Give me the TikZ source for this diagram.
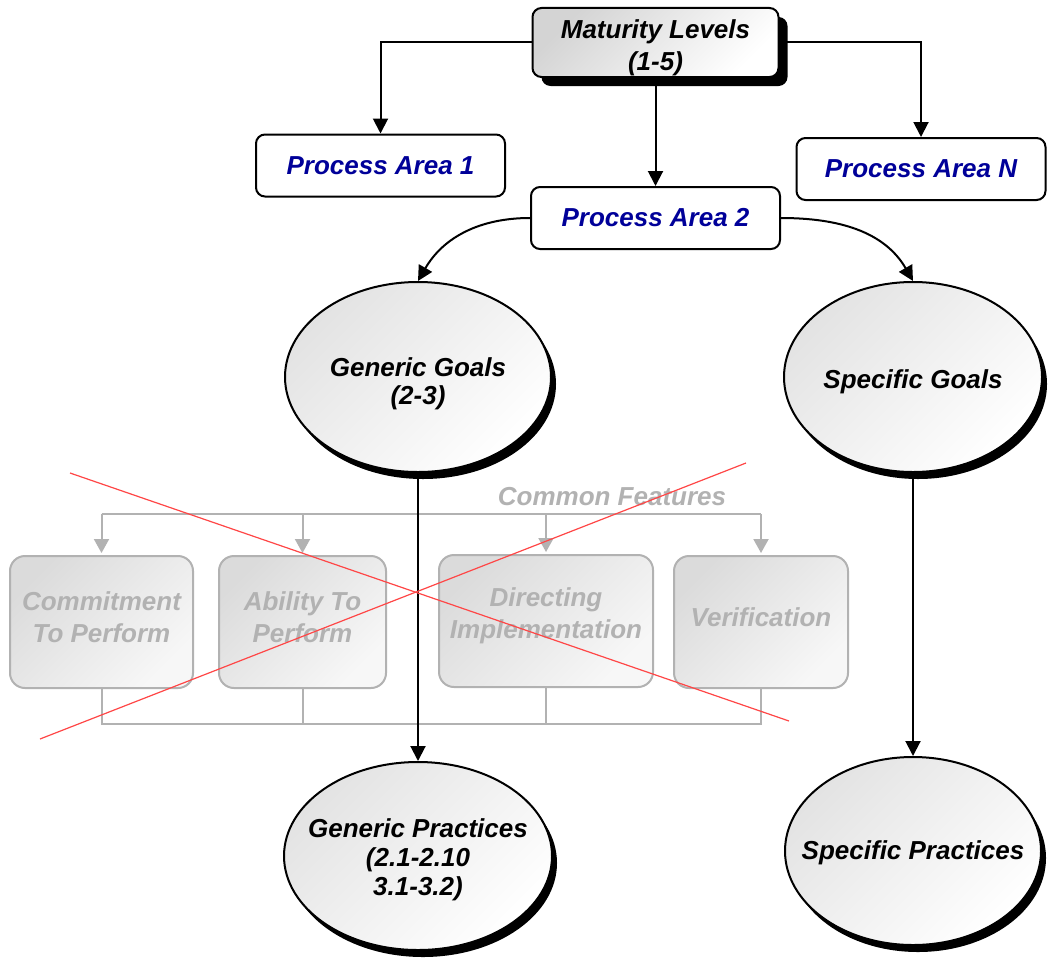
\documentclass[tikz,border=0pt]{standalone}
\usepackage{fontspec}
\setmainfont{Liberation Sans}
\usetikzlibrary{arrows.meta,shapes.geometric,shadows}
\definecolor{pablue}{RGB}{0,0,153}
\definecolor{cfgray}{RGB}{178,178,178}
\definecolor{crossred}{RGB}{255,70,70}
\begin{document}
\begin{tikzpicture}[x=1pt,y=-1pt,
  txt/.style={font=\fontsize{26}{#1}\selectfont\bfseries\itshape, align=center, inner sep=0pt},
  txt/.default=30,
  mbox/.style={draw=black, line width=2pt, rounded corners=9pt,
    top color=black!17, bottom color=white, shading angle=45,
    minimum width=246pt, minimum height=69pt, inner sep=0pt,
    drop shadow={shadow xshift=9pt, shadow yshift=-9pt, fill=black, opacity=1}},
  pabox/.style={txt, text=pablue, draw=black, line width=2pt, rounded corners=9pt,
    fill=white, minimum width=249pt, minimum height=62pt},
  oval/.style={ellipse, draw=black, line width=2pt, inner sep=0pt,
    top color=black!11, bottom color=white, shading angle=45,
    drop shadow={shadow xshift=5pt, shadow yshift=-7pt, fill=black, opacity=1}},
  cfbox/.style={draw=cfgray, line width=2pt, rounded corners=15pt, inner sep=0pt,
    top color=black!14, bottom color=black!3, shading angle=45, minimum height=132pt},
  cftext/.style={txt=32, text=cfgray},
  conn/.style={line width=2pt, -{Triangle[length=15pt,width=15pt]}},
  gline/.style={draw=cfgray, line width=2pt},
  garrow/.style={gline, shorten >=2pt, -{Triangle[length=14pt,width=15pt]}},
  cross/.style={draw=crossred, line width=1.2pt}
]
\path[use as bounding box, fill=white] (0,0) rectangle (1048,958);

% common features (greyed out)
\node[txt, text=cfgray] (cflabel) at (612,497) {Common Features};
\node[cfbox, minimum width=183pt] (cf1) at (101.5,622) {};
\node[cfbox, minimum width=167pt] (cf2) at (302.5,622) {};
\node[cfbox, minimum width=214pt] (cf3) at (546,621) {};
\node[cfbox, minimum width=174pt] (cf4) at (761,622) {};
\node[cftext] (cf1t) at ([yshift=5pt]cf1.center) {Commitment\\To Perform};
\node[cftext] (cf2t) at ([yshift=5pt]cf2.center) {Ability To\\Perform};
\node[cftext] (cf3t) at ([yshift=5pt]cf3.center) {Directing\\Implementation};
\node[cftext] (cf4t) at ([yshift=5pt]cf4.center) {Verification};
\coordinate (bustop) at (0,514);
\coordinate (busbot) at (0,724);
\draw[gline] (cf1.north |- bustop) -- (cf4.north |- bustop);
\foreach \n in {cf1,cf2,cf3,cf4}
  \draw[garrow] (\n.north |- bustop) -- (\n.north);
\draw[gline] (cf1.south) -- (cf1.south |- busbot) -- (cf4.south |- busbot) -- (cf4.south);
\draw[gline] (cf2.south) -- (cf2.south |- busbot);
\draw[gline] (cf3.south) -- (cf3.south |- busbot);

% model hierarchy
\node[mbox] (ml) at (655.5,42.5) {};
\node[txt=32] (mlt) at ([yshift=-5pt]ml.center) {Maturity Levels\\(1-5)};
\node[pabox] (pa1) at (380.5,165.5) {Process Area 1};
\node[pabox] (pa2) at (655.5,218) {Process Area 2};
\node[pabox] (paN) at (921,169) {Process Area N};
\node[oval, minimum width=266pt, minimum height=190pt] (gg) at (418,377) {};
\node[oval, minimum width=258pt, minimum height=190pt] (sg) at (913,377) {};
\node[oval, minimum width=268pt, minimum height=188pt] (gp) at (418,856) {};
\node[oval, minimum width=256pt, minimum height=188pt] (sp) at (913,851) {};
\node[txt=28] (ggt) at ([yshift=-7pt]gg.center) {Generic Goals\\(2-3)};
\node[txt] (sgt) at ([yshift=-5pt]sg.center) {Specific Goals};
\node[txt=29] (gpt) at ([yshift=-4pt]gp.center) {Generic Practices\\(2.1-2.10\\3.1-3.2)};
\node[txt] (spt) at ([yshift=-2pt]sp.center) {Specific Practices};

\draw[conn] (ml.west) -| (pa1.north);
\draw[conn] (ml.east) -| (paN.north);
\draw[conn] (ml.south) -- (pa2.north);
\draw[conn] (pa2.west) to[out=180,in=60] (gg.north);
\draw[conn] (pa2.east) to[out=0,in=120] (sg.north);
\draw[conn] (gg.south) -- (gp.north);
\draw[conn] (sg.south) -- (sp.north);

% crossing-out lines
\coordinate (r1a) at (70,473);
\coordinate (r1b) at (789,721);
\coordinate (r2a) at (40,739);
\coordinate (r2b) at (746,463);
\draw[cross] (r1a) -- (r1b);
\draw[cross] (r2a) -- (r2b);
\end{tikzpicture}
\end{document}
